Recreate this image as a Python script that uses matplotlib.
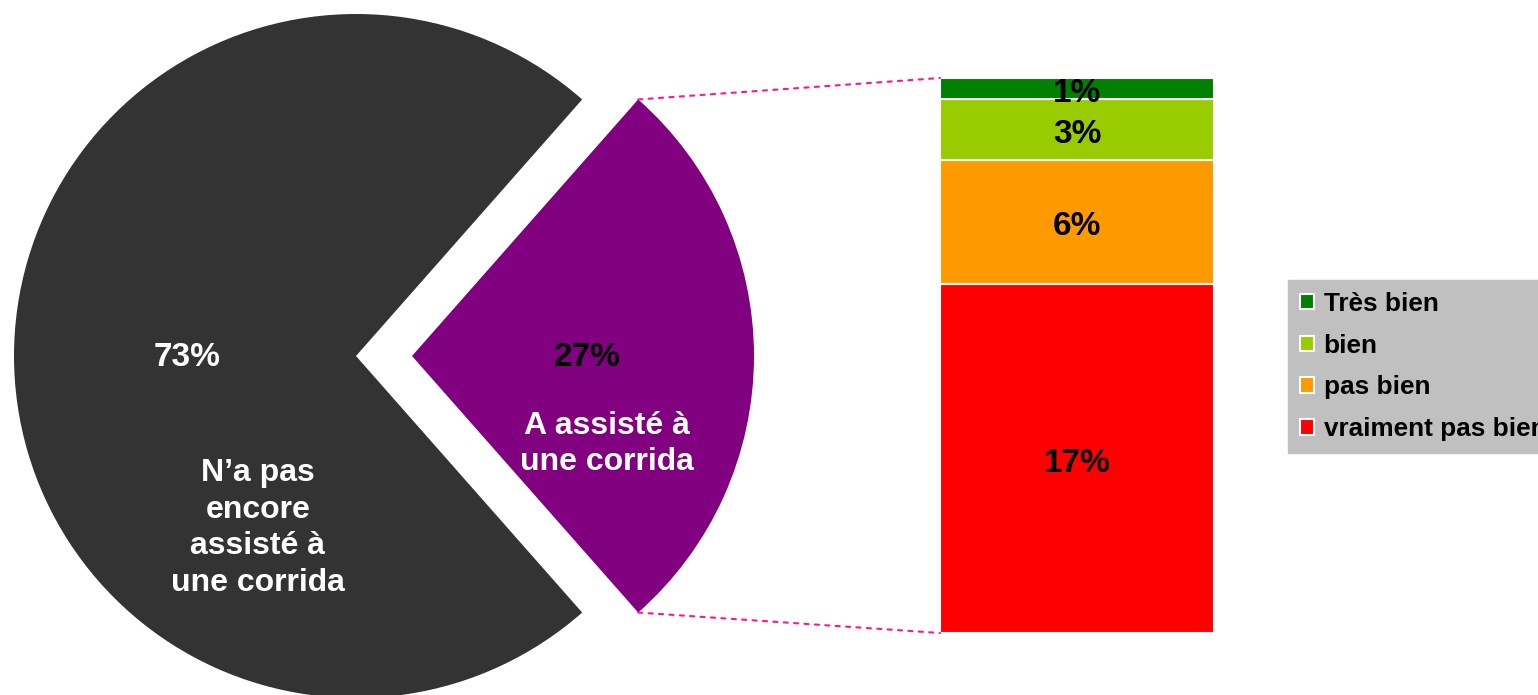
import numpy as np
import matplotlib.pyplot as plt
from matplotlib.patches import ConnectionPatch

plt.rcParams['font.family'] = ['Liberation Sans', 'DejaVu Sans']

# pie data
pie_labels = ["A assisté à\nune corrida", "N\u2019a pas\nencore\nassisté à\nune corrida"]
pie_values = [27, 73]
pie_colors = ['#800080', '#333333']

# breakdown of the 27%
bar_labels = ['vraiment pas bien', 'pas bien', 'bien', 'Très bien']
bar_values = [17, 6, 3, 1]
bar_colors = ['#FF0000', '#FF9900', '#99CC00', '#008000']

W, H = 1538, 695
fig = plt.figure(figsize=(W / 100, H / 100), dpi=100)

ax = fig.add_axes([0, 0, 1, 1])

center = (384, 339)
radius = 342
half = 360 * pie_values[0] / sum(pie_values) / 2
# explode is in data units (pixels here)
wedges, _ = ax.pie(pie_values, colors=pie_colors, startangle=-half, center=center,
                   radius=radius, explode=[28, 28], frame=True)
ax.set_xlim(0, W)
ax.set_ylim(0, H)
ax.axis('off')

# pie texts
ax.text(587, 337, f"{pie_values[0]}%", ha='center', va='center', fontsize=24,
        fontweight='bold', color='black')
ax.text(607, 251, pie_labels[0], ha='center', va='center', fontsize=23,
        fontweight='bold', color='white', linespacing=1.3)
ax.text(187, 337, f"{pie_values[1]}%", ha='center', va='center', fontsize=24,
        fontweight='bold', color='white')
ax.text(258, 167, pie_labels[1], ha='center', va='center', fontsize=23,
        fontweight='bold', color='white', linespacing=1.3)

# stacked bar
bax = fig.add_axes([940 / W, (H - 633) / H, 274 / W, 555 / H])
bax.set_xlim(-0.5, 0.5)
bax.set_ylim(0, sum(bar_values))
bax.axis('off')
bottom = 0
for lab, v, c in zip(bar_labels, bar_values, bar_colors):
    bax.bar(0, v, width=1, bottom=bottom, color=c, edgecolor='white', linewidth=1.5, label=lab)
    bax.annotate(f"{v}%", (0, bottom + v / 2), xytext=(0, -3.5), textcoords='offset points',
                 ha='center', va='center', fontsize=24, fontweight='bold', color='black',
                 annotation_clip=False)
    bottom += v

# connector lines
p_wedge = wedges[0]
cx, cy = p_wedge.center
r = p_wedge.r
for ang, yb in [(p_wedge.theta2, sum(bar_values)), (p_wedge.theta1, 0)]:
    xy = (cx + r * np.cos(np.radians(ang)), cy + r * np.sin(np.radians(ang)))
    con = ConnectionPatch(xyA=xy, coordsA=ax.transData, xyB=(-0.5, yb), coordsB=bax.transData,
                          color='#FF1493', linestyle=(0, (2, 3)), linewidth=1.5)
    fig.add_artist(con)

# legend (runs off the right edge, as in the original)
handles, labels = bax.get_legend_handles_labels()
leg = fig.legend(handles[::-1], labels[::-1], loc='center left',
                 bbox_to_anchor=(1288 / W, (H - 366.5) / H), frameon=True, fancybox=False,
                 facecolor='#C0C0C0', edgecolor='#C0C0C0', framealpha=1,
                 prop={'weight': 'bold', 'size': 18.8}, handlelength=0.55, handleheight=0.55,
                 handletextpad=0.35, labelspacing=0.68, borderpad=0.46, borderaxespad=0)

fig.savefig('out.png', dpi=100)
